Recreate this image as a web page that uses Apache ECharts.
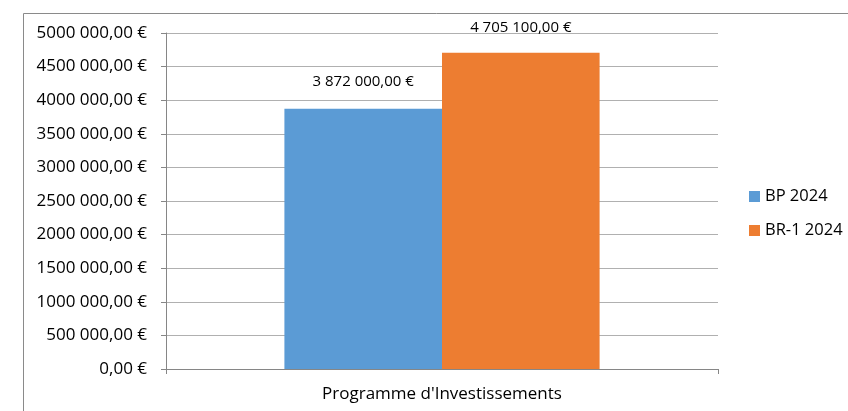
<!DOCTYPE html>
<html>
<head>
<meta charset="utf-8">
<script src="https://cdn.jsdelivr.net/npm/echarts@6/dist/echarts.min.js"></script>
<style>html,body{margin:0;padding:0;background:#fff;}#c{width:848px;height:411px;}</style>
</head>
<body>
<div id="c"></div>
<script>
const categories = ["Programme d'Investissements"];
const seriesNames = ["BP 2024", "BR-1 2024"];
const bp2024 = [3872000];
const br2024 = [4705100];
const dataLabels = ["3 872 000,00 €", "4 705 100,00 €"];
const yTickValues = [0, 500000, 1000000, 1500000, 2000000, 2500000, 3000000, 3500000, 4000000, 4500000, 5000000];
const yTickLabels = ["0,00 €", "500 000,00 €", "1000 000,00 €", "1500 000,00 €", "2000 000,00 €", "2500 000,00 €", "3000 000,00 €", "3500 000,00 €", "4000 000,00 €", "4500 000,00 €", "5000 000,00 €"];
const colors = ["#5B9BD5", "#ED7D31"];

const FONT = "Open Sans";
const chart = echarts.init(document.getElementById('c'), null, {renderer: 'canvas'});
chart.setOption({
  animation: false,
  textStyle: {fontFamily: FONT},
  graphic: [{
    type: 'rect', left: 21, top: 11, silent: true,
    shape: {width: 900, height: 500},
    style: {fill: 'none', stroke: '#8a8a8a', lineWidth: 1}
  }],
  grid: {left: 166, right: 130, top: 33, bottom: 42, containLabel: false},
  legend: {
    orient: 'vertical', left: 749, top: 188, padding: 0,
    itemWidth: 11, itemHeight: 11, itemGap: 17,
    icon: 'rect',
    data: seriesNames,
    textStyle: {fontFamily: FONT, fontSize: 16.5, color: '#000'}
  },
  xAxis: {
    type: 'category', data: categories,
    axisLine: {show: true, lineStyle: {color: '#868686', width: 1}},
    axisTick: {show: true, length: 5, alignWithLabel: false, lineStyle: {color: '#868686'}},
    axisLabel: {fontFamily: FONT, fontSize: 17, color: '#000', margin: 17}
  },
  yAxis: {
    type: 'value', min: 0, max: 5000000, interval: 500000,
    axisLine: {show: true, lineStyle: {color: '#868686', width: 1}},
    axisTick: {show: true, length: 5, lineStyle: {color: '#868686'}},
    splitLine: {show: true, lineStyle: {color: '#b0b0b0', width: 1}},
    axisLabel: {
      fontFamily: FONT, fontSize: 17, color: '#000', margin: 19,
      formatter: function (v) { const i = yTickValues.indexOf(v); return i >= 0 ? yTickLabels[i] : ''; }
    }
  },
  series: [
    {
      name: seriesNames[0], type: 'bar', data: bp2024, barGap: '0%', barCategoryGap: '42.9%',
      itemStyle: {color: colors[0]},
      label: {show: true, position: 'top', distance: 20, fontFamily: FONT, fontSize: 15, color: '#000',
        formatter: () => dataLabels[0]}
    },
    {
      name: seriesNames[1], type: 'bar', data: br2024, barGap: '0%', barCategoryGap: '42.9%',
      itemStyle: {color: colors[1]},
      label: {show: true, position: 'top', distance: 18, fontFamily: FONT, fontSize: 15, color: '#000',
        formatter: () => dataLabels[1]}
    }
  ]
});
</script>
</body>
</html>
